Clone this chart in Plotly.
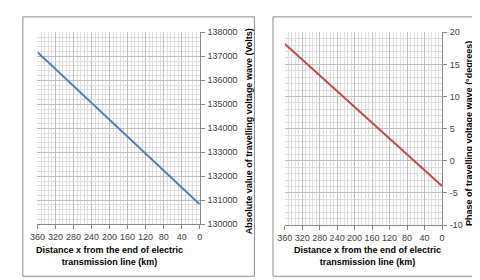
import plotly.graph_objects as go

distance_km = [360, 320, 280, 240, 200, 160, 120, 80, 40, 0]
abs_voltage = [137170, 136470, 135760, 135060, 134350, 133650, 132940, 132240, 131535, 130830]
phase_deg = [18.2, 15.75, 13.3, 10.8, 8.4, 5.9, 3.47, 1.0, -1.45, -3.9]
x_ticks = [360, 320, 280, 240, 200, 160, 120, 80, 40, 0]
volt_ticks = [130000, 131000, 132000, 133000, 134000, 135000, 136000, 137000, 138000]
phase_ticks = [-10, -5, 0, 5, 10, 15, 20]

W, H = 480, 280
def px(x): return x / W
def py(y): return 1 - y / H

fig = go.Figure()
fig.add_trace(go.Scatter(x=distance_km, y=abs_voltage, mode="lines",
                         line=dict(color="#4A7EBB", width=2), xaxis="x", yaxis="y"))
fig.add_trace(go.Scatter(x=distance_km, y=phase_deg, mode="lines",
                         line=dict(color="#BE4B48", width=2), xaxis="x2", yaxis="y2"))

grid_major = "#BFBFBF"
grid_minor = "#DDDDDD"
axis_col = "#868686"
tick_font = dict(family="Liberation Sans, Arial, sans-serif", size=9, color="#404040")

def xaxis(dom, anchor):
    return dict(domain=dom, anchor=anchor, range=[360, 0], tickvals=x_ticks,
                ticktext=[str(v) for v in x_ticks], tickangle=0,
                showgrid=True, gridcolor=grid_major, gridwidth=1,
                minor=dict(dtick=8, tick0=0, showgrid=True, gridcolor=grid_minor, ticks=""),
                showline=True, linecolor=axis_col, linewidth=1,
                ticks="outside", ticklen=4, tickcolor=axis_col,
                tickfont=tick_font, zeroline=False, fixedrange=True)

def yaxis(dom, anchor, rng, tv, mdt):
    return dict(domain=dom, anchor=anchor, side="right", range=rng, tickvals=tv,
                ticktext=[str(v) for v in tv],
                showgrid=True, gridcolor=grid_major, gridwidth=1,
                minor=dict(dtick=mdt, showgrid=True, gridcolor=grid_minor, ticks=""),
                showline=True, linecolor=axis_col, linewidth=1,
                ticks="outside", ticklen=4, tickcolor=axis_col, ticklabelstandoff=1,
                tickfont=tick_font, zeroline=False, fixedrange=True)

fig.update_layout(
    width=W, height=H, margin=dict(l=0, r=0, t=0, b=0),
    paper_bgcolor="white", plot_bgcolor="white", showlegend=False,
    xaxis=xaxis([px(22), px(188)], "y"),
    yaxis=yaxis([py(219), py(20)], "x", [130000, 138000], volt_ticks, 200),
    xaxis2=xaxis([px(275), px(436)], "y2"),
    yaxis2=yaxis([py(220), py(20)], "x2", [-10, 20], phase_ticks, 1),
)

shapes = [
    dict(type="rect", xref="paper", yref="paper", x0=px(7), x1=px(244), y0=py(273), y1=py(4),
         line=dict(color="#8C8C8C", width=1), fillcolor="rgba(0,0,0,0)", layer="below"),
    dict(type="rect", xref="paper", yref="paper", x0=px(263), x1=px(478), y0=py(273), y1=py(4),
         line=dict(color="#8C8C8C", width=1), fillcolor="rgba(0,0,0,0)", layer="below"),
]
fig.update_layout(shapes=shapes)

title_font = dict(family="Liberation Sans, Arial, sans-serif", size=9, color="#000000")
ann = [
    dict(x=px(238), y=py(123), text="<b>Absolute value of travelling voltage wave (Volts)</b>",
         textangle=-90),
    dict(x=px(463), y=py(125), text="<b>Phase of travelling voltage wave (°degrees)</b>",
         textangle=-90),
    dict(x=px(96), y=py(252), text="<b>Distance x from the end of electric<br>transmission line (km)</b>"),
    dict(x=px(360), y=py(252), text="<b>Distance x from the end of electric<br>transmission line (km)</b>"),
]
for a in ann:
    a.update(xref="paper", yref="paper", showarrow=False, font=title_font,
             xanchor="center", yanchor="middle")
fig.update_layout(annotations=ann)

fig.write_html("out.html")
